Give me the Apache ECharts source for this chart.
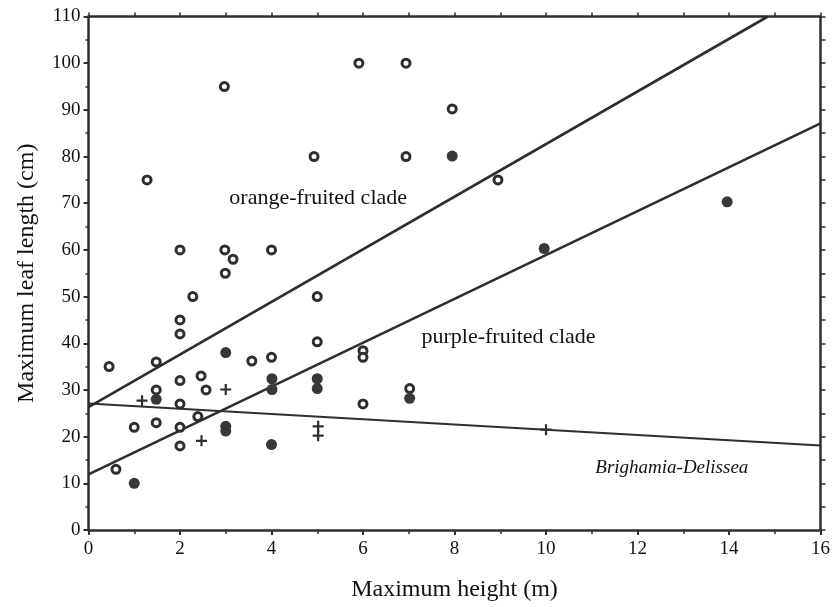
<!DOCTYPE html>
<html>
<head>
<meta charset="utf-8">
<script src="https://cdn.jsdelivr.net/npm/echarts@6/dist/echarts.min.js"></script>
<style>
html,body{margin:0;padding:0;background:#fff;}
#chart{width:836px;height:607px;}
</style>
</head>
<body>
<div id="chart"></div>
<script>
// ---- data ----
const openCircles = [
  [0.45,35],[0.6,13],[1,22],[1.28,75],[1.48,36],[1.48,30],[1.48,23],
  [2,60],[2,45],[2,42],[2,32],[2,27],[2,22],[2,18],
  [2.28,50],[2.46,33],[2.57,30],[2.39,24.3],
  [2.97,95],[2.98,60],[2.99,55],[3.16,58],[3.57,36.2],
  [4,60],[4,37],[4.93,80],[5,50],[5,40.3],
  [5.91,100],[6.94,100],[6,38.4],[6,37],[6,27],[6.94,80],[7.02,30.3],[7.95,90.2],[8.95,75]
];
const filledCircles = [
  [1,10],[1.48,28],[3,38],[3,22.2],[3,21.2],[4.01,32.4],[4.01,30.1],[4,18.3],
  [5,32.4],[5,30.3],[7.02,28.2],[7.95,80.1],[9.96,60.3],[13.96,70.3]
];
const plusPoints = [[1.17,27.7],[3,30.1],[2.47,19.1],[5.02,22.2],[5.02,20.2],[10,21.5]];

const orangeLine = [[0,26.3],[14.85,110]];
const purpleLine = [[0,11.9],[16,87.1]];
const brighamiaLine = [[0,27.1],[16,18.1]];

const annotations = [
  {name:'orange-fruited clade', value:[5.02,71.1], italic:false, size:22},
  {name:'purple-fruited clade', value:[9.18,41.3], italic:false, size:22},
  {name:'Brighamia-Delissea', value:[12.75,13.3], italic:true, size:19}
];

const xTitle = 'Maximum height (m)';
const yTitle = 'Maximum leaf length (cm)';

// ---- chart ----
const ink = '#2e2e2e';
const textInk = '#111';
const font = '"Liberation Serif", "DejaVu Serif", serif';
const chart = echarts.init(document.getElementById('chart'));
const plusPath = 'path://M4,0H6V4H10V6H6V10H4V6H0V4H4Z';

chart.setOption({
  backgroundColor:'#fff',
  animation:false,
  grid:{left:88.5, right:15.5, top:16.5, bottom:73.7},
  xAxis:[{
    type:'value', min:0, max:16, interval:2, position:'bottom',
    name:xTitle, nameLocation:'middle', nameGap:48,
    nameTextStyle:{fontFamily:font, fontSize:24, color:textInk},
    axisLine:{show:true, onZero:false, lineStyle:{color:ink, width:2.5}},
    axisTick:{show:true, inside:false, length:5, lineStyle:{color:ink, width:2}},
    minorTick:{show:true, splitNumber:2, length:4, lineStyle:{color:ink, width:1.5}},
    axisLabel:{fontFamily:font, fontSize:19, color:textInk, margin:10},
    splitLine:{show:false}
  },{
    type:'value', min:0, max:16, interval:1, position:'top',
    axisLine:{show:true, onZero:false, lineStyle:{color:ink, width:2.5}},
    axisTick:{show:true, inside:false, length:4, lineStyle:{color:ink, width:1.5}},
    axisLabel:{show:false}, splitLine:{show:false}
  }],
  yAxis:[{
    type:'value', min:0, max:110, interval:10, position:'left',
    name:yTitle, nameLocation:'middle', nameGap:50, nameRotate:90,
    nameTextStyle:{fontFamily:font, fontSize:24, color:textInk},
    axisLine:{show:true, onZero:false, lineStyle:{color:ink, width:2.5}},
    axisTick:{show:true, inside:false, length:5, lineStyle:{color:ink, width:2}},
    minorTick:{show:true, splitNumber:2, length:3, lineStyle:{color:ink, width:1.5}},
    axisLabel:{fontFamily:font, fontSize:19, color:textInk, margin:8},
    splitLine:{show:false}
  },{
    type:'value', min:0, max:110, interval:5, position:'right',
    axisLine:{show:true, onZero:false, lineStyle:{color:ink, width:2.5}},
    axisTick:{show:true, inside:false, length:5, lineStyle:{color:ink, width:1.5}},
    axisLabel:{show:false}, splitLine:{show:false}
  }],
  series:[
    {type:'line', data:orangeLine, symbol:'none', lineStyle:{color:ink, width:2.6}, z:3},
    {type:'line', data:purpleLine, symbol:'none', lineStyle:{color:ink, width:2.6}, z:3},
    {type:'line', data:brighamiaLine, symbol:'none', lineStyle:{color:ink, width:2}, z:3},
    {type:'scatter', data:openCircles, symbol:'circle', symbolSize:8,
      itemStyle:{color:'#fff', borderColor:ink, borderWidth:3, opacity:1}, z:4},
    {type:'scatter', data:filledCircles, symbol:'circle', symbolSize:11,
      itemStyle:{color:'#383838', opacity:1}, z:4},
    {type:'scatter', data:plusPoints, symbol:plusPath, symbolSize:11,
      itemStyle:{color:ink, opacity:1}, z:4},
    {type:'scatter', symbolSize:0, z:5, itemStyle:{opacity:1},
      data:annotations.map(a=>({name:a.name, value:a.value,
        label:{show:true, position:'inside', formatter:'{b}', fontFamily:font,
          fontSize:a.size, fontStyle:a.italic?'italic':'normal', color:textInk,
          align:'center', verticalAlign:'middle'}})),
      silent:true}
  ]
});
</script>
</body>
</html>
